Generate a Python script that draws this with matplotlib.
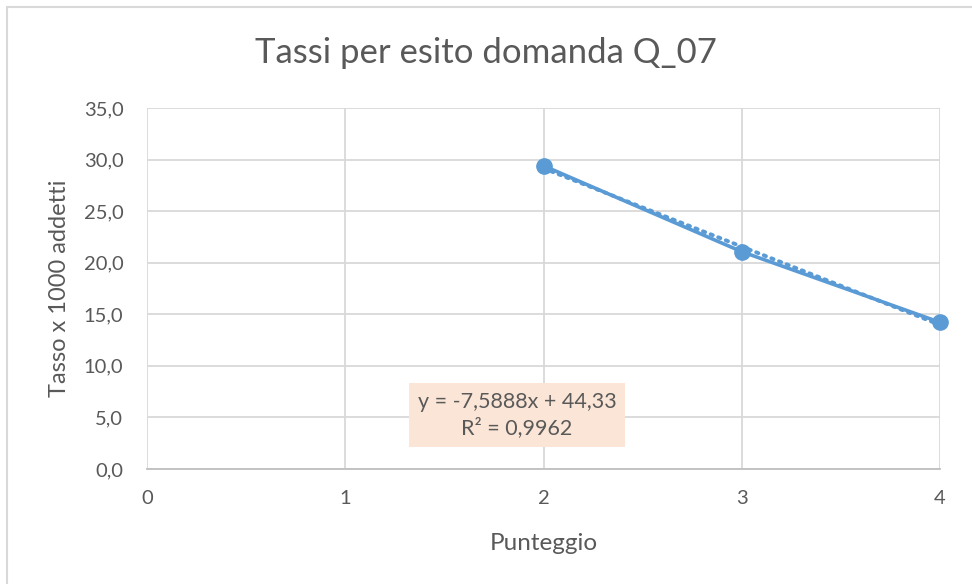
import matplotlib.pyplot as plt
import numpy as np
from matplotlib.patches import Rectangle

punteggio = [2, 3, 4]
tasso = [29.4, 21.07, 14.22]
x_ticks = [0, 1, 2, 3, 4]
y_ticks = [0, 5, 10, 15, 20, 25, 30, 35]

blue = '#5B9BD5'
txt = '#595959'
grid = '#D9D9D9'
plt.rcParams['font.family'] = ['Lato', 'DejaVu Sans']

fig = plt.figure(figsize=(9.72, 5.84), dpi=100)
# chart border (Excel chart area)
fig.patches.append(Rectangle((7/972, -0.05), 1.1, (584-7)/584 + 0.05, transform=fig.transFigure,
                             fill=False, edgecolor='#D9D9D9', lw=1.5))

ax = fig.add_axes([147/972, (584-469)/584, 793/972, 361/584])
ax.set_xlim(0, 4)
ax.set_ylim(0, 35)
ax.set_xticks(x_ticks)
ax.set_yticks(y_ticks)
ax.set_yticklabels([f'{v:.1f}'.replace('.', ',') for v in y_ticks])
ax.grid(True, color=grid, lw=1.3)
ax.set_axisbelow(True)
for s in ['top', 'right', 'left']:
    ax.spines[s].set_visible(False)
ax.spines['bottom'].set_color('#BFBFBF')
ax.spines['bottom'].set_linewidth(1.3)
ax.tick_params(length=0, colors=txt, labelsize=14.5)
ax.tick_params(axis='y', pad=17)
ax.tick_params(axis='x', pad=15)

# linear trendline
coef = np.polyfit(punteggio, tasso, 1)
xt = np.array([2, 4])
ax.plot(xt, np.polyval(coef, xt), color=blue, lw=2.8, ls=(0, (0.6, 1.5)),
        dash_capstyle='round', clip_on=False)
ax.plot(punteggio, tasso, color=blue, lw=2.6, marker='o', ms=11, zorder=3, clip_on=False)

ax.set_xlabel('Punteggio', color=txt, fontsize=17.5, va='center')
ax.xaxis.set_label_coords(0.5, (469 - 543) / 361)
ax.set_ylabel('Tasso x 1000 addetti', color=txt, fontsize=17, va='center')
ax.yaxis.set_label_coords((60 - 147) / 793, 0.5)
fig.text(0.5, 1 - 53/584, 'Tassi per esito domanda Q_07', ha='center', va='center',
         color=txt, fontsize=25)

ax.text(0.5 * (410 + 624) / 972, 1 - 415/584,
        'y = -7,5888x + 44,33\nR² = 0,9962', transform=fig.transFigure,
        ha='center', va='center', color=txt, fontsize=15.5, linespacing=1.3,
        bbox=dict(boxstyle='square,pad=0.4', fc='#FBE5D6', ec='none'))

fig.savefig('out.png', dpi=100)
